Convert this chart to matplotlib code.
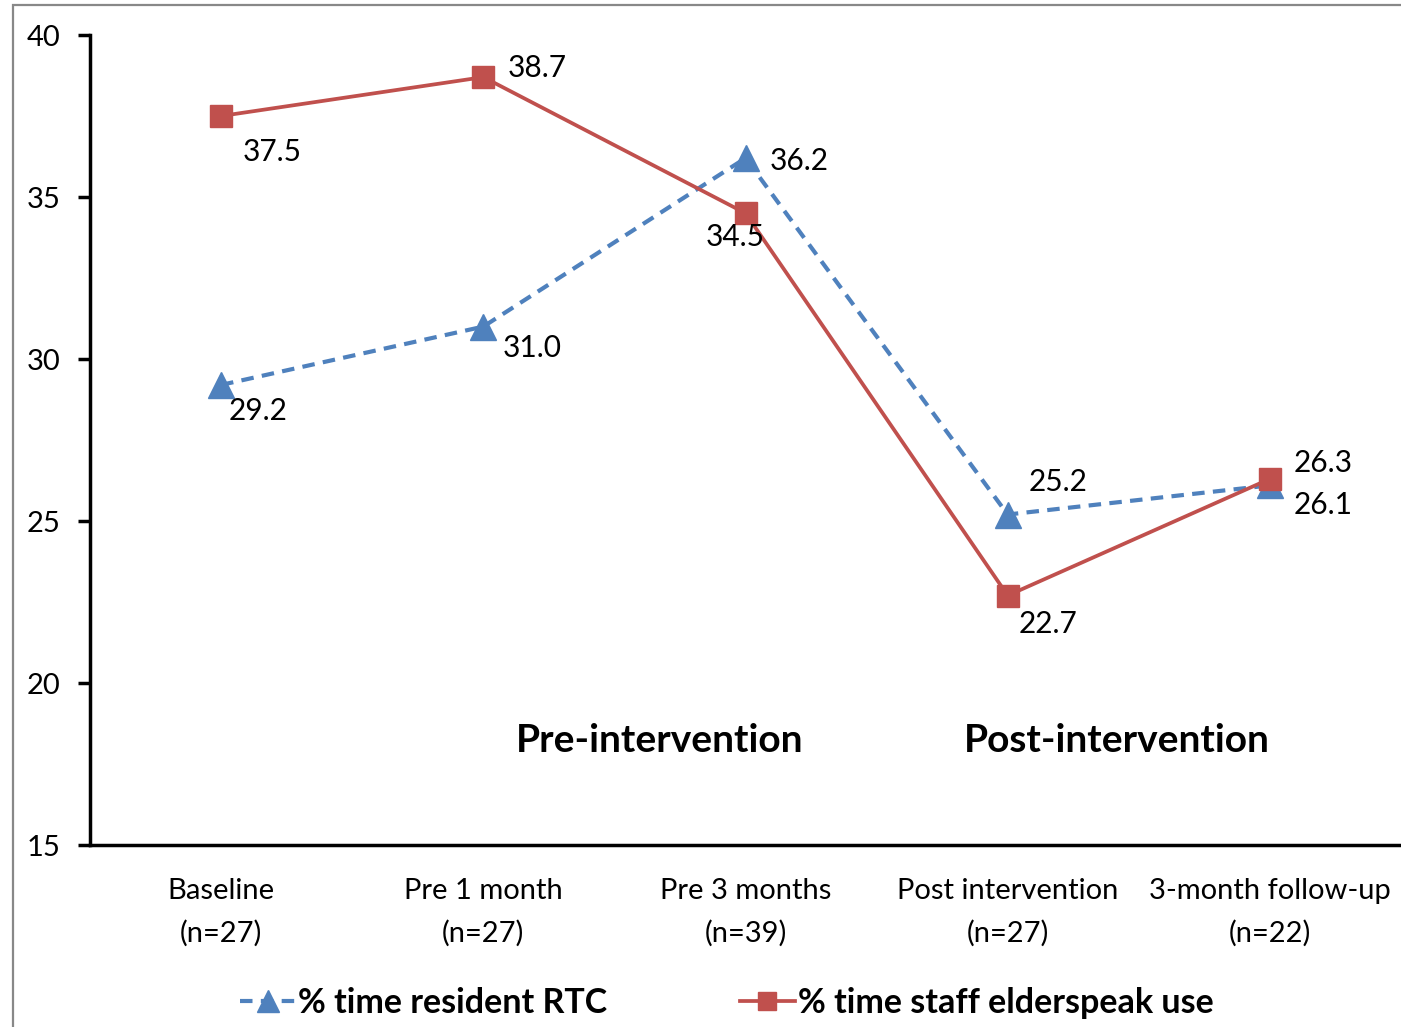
import numpy as np
import matplotlib
matplotlib.use('Agg')
import matplotlib.pyplot as plt
from matplotlib.patches import Rectangle

plt.rcParams['font.family'] = ['Lato', 'DejaVu Sans']

# data
categories = ['Baseline\n(n=27)', 'Pre 1 month\n(n=27)', 'Pre 3 months\n(n=39)',
              'Post intervention\n(n=27)', '3-month follow-up\n(n=22)']
resident_rtc = [29.2, 31.0, 36.2, 25.2, 26.1]
staff_elderspeak = [37.5, 38.7, 34.5, 22.7, 26.3]
blue_offsets = [(37, -26), (49, -21), (54, -3), (50, 33), (53, -20)]
red_offsets = [(51, -36), (54, 9), (-10, -24), (40, -28), (53, 16)]

blue = '#4F81BD'
red = '#C0504D'

fig = plt.figure(figsize=(14.01, 10.27), dpi=100)
ax = fig.add_axes([90/1401, 1 - 845/1027, 1 - 90/1401, (845 - 35)/1027])

x = np.arange(len(categories))
ax.plot(x, resident_rtc, color=blue, lw=3, ls=(0, (3, 2)), marker='^', ms=19,
        label='% time resident RTC', zorder=3)
ax.plot(x, staff_elderspeak, color=red, lw=2.7, marker='s', ms=16,
        label='% time staff elderspeak use', zorder=4)

for i, v in enumerate(resident_rtc):
    ax.annotate('%.1f' % v, (x[i], v), xytext=blue_offsets[i], textcoords='offset pixels',
                ha='center', va='center', fontsize=21.5, zorder=5)
for i, v in enumerate(staff_elderspeak):
    ax.annotate('%.1f' % v, (x[i], v), xytext=red_offsets[i], textcoords='offset pixels',
                ha='center', va='center', fontsize=21.5, zorder=5)

# period labels
ax.annotate('Pre-intervention', xy=(660/1401, 1 - 740/1027), xycoords='figure fraction',
            ha='center', va='center', fontsize=28, fontweight='bold')
ax.annotate('Post-intervention', xy=(1117/1401, 1 - 740/1027), xycoords='figure fraction',
            ha='center', va='center', fontsize=28, fontweight='bold')

ax.set_xlim(-0.5, 4.5)
ax.set_ylim(15, 40)
ax.set_yticks(np.arange(15, 41, 5))
ax.set_xticks(x)
ax.set_xticklabels(categories, fontsize=21, linespacing=1.7)
ax.tick_params(axis='x', length=0, pad=24)
ax.tick_params(axis='y', length=9, width=2.5, direction='out', labelsize=21, pad=12)
for s in ['top', 'right']:
    ax.spines[s].set_visible(False)
for s in ['left', 'bottom']:
    ax.spines[s].set_linewidth(2.5)

leg = fig.legend(loc='center', bbox_to_anchor=(0.519, 1 - 1003/1027), ncol=2, frameon=False,
                 prop={'size': 24.5, 'weight': 'bold'}, handlelength=1.6, handletextpad=0.1,
                 columnspacing=3.9, markerscale=0.85)

fig.add_artist(Rectangle((13/1401, -0.1), 1.2, 1 - 5/1027 + 0.1, transform=fig.transFigure,
                         fill=False, edgecolor='#888888', lw=1.6))

fig.savefig('out.png', dpi=100)
